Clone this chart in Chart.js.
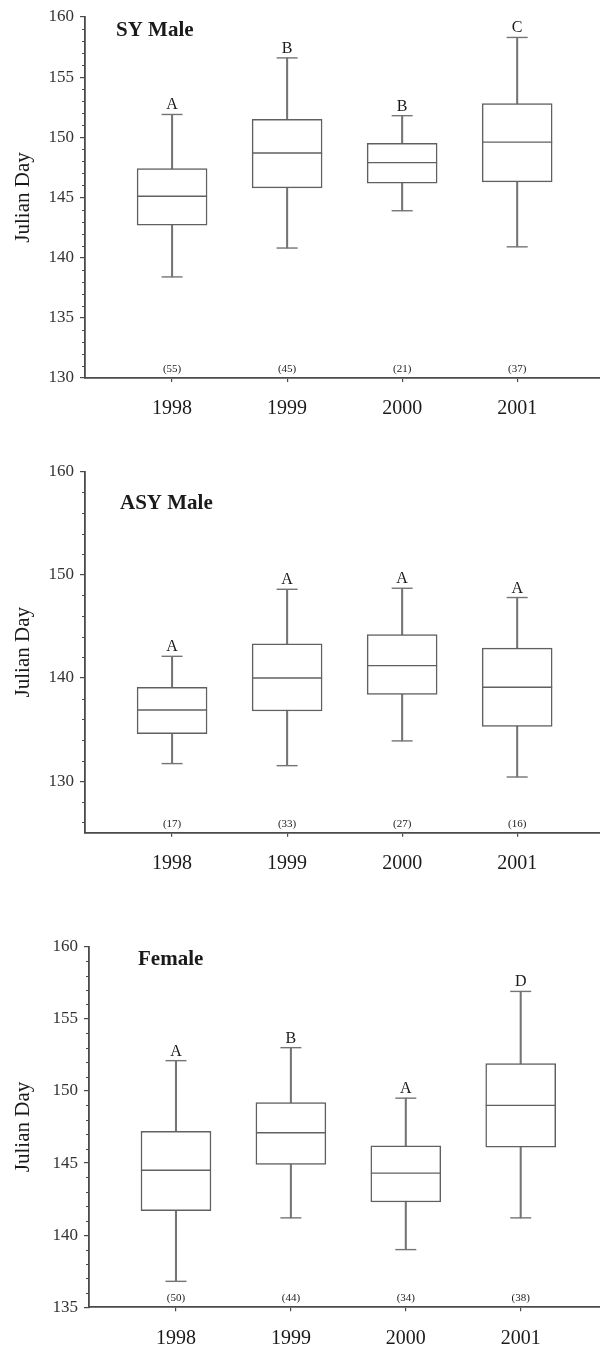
<!DOCTYPE html>
<html>
<head>
<meta charset="utf-8">
<script src="https://cdn.jsdelivr.net/npm/chart.js@4.4.0/dist/chart.umd.min.js"></script>
<style>
  body { margin: 0; background: #fff; }
  .panel { position: absolute; left: 0; width: 600px; }
</style>
</head>
<body>
<div class="panel" style="top:0;height:440px"><canvas id="syChart"></canvas></div>
<div class="panel" style="top:440px;height:440px"><canvas id="asyChart"></canvas></div>
<div class="panel" style="top:880px;height:467px"><canvas id="femaleChart"></canvas></div>
<script>
const years = [1998, 1999, 2000, 2001];

// SY Male
const syLow = [138.4, 140.8, 143.9, 140.9];
const syQ1 = [142.7, 145.8, 146.2, 146.3];
const syMedian = [145.1, 148.7, 147.9, 149.6];
const syQ3 = [147.4, 151.5, 149.5, 152.8];
const syHigh = [151.9, 156.6, 151.8, 158.3];
const syGroups = ["A", "B", "B", "C"];
const syCounts = [55, 45, 21, 37];
const syTicks = [130, 135, 140, 145, 150, 155, 160];

// ASY Male
const asyLow = [131.7, 131.5, 133.9, 130.4];
const asyQ1 = [134.6, 136.8, 138.4, 135.3];
const asyMedian = [136.9, 140.0, 141.2, 139.1];
const asyQ3 = [139.1, 143.3, 144.2, 142.9];
const asyHigh = [142.1, 148.6, 148.7, 147.8];
const asyGroups = ["A", "A", "A", "A"];
const asyCounts = [17, 33, 27, 16];
const asyTicks = [130, 140, 150, 160];

// Female
const femLow = [136.8, 141.2, 139.0, 141.2];
const femQ1 = [141.7, 144.9, 142.3, 146.1];
const femMedian = [144.5, 147.1, 144.3, 149.0];
const femQ3 = [147.2, 149.2, 146.2, 151.9];
const femHigh = [152.1, 153.0, 149.5, 156.9];
const femGroups = ["A", "B", "A", "D"];
const femCounts = [50, 44, 34, 38];
const femTicks = [135, 140, 145, 150, 155, 160];

const serif = '"Liberation Serif", "Times New Roman", serif';
const axisColor = "#4a4a4a";
const boxColor = "#606060";
const whiskerColor = "#747474";

function makePanel(id, d, layout) {
    const parts = {
        id: "boxParts",
        afterDatasetsDraw(chart) {
            const { ctx, chartArea, scales: { x, y } } = chart;
            const boxes = chart.getDatasetMeta(0).data;
            const hline = (x1, x2, yy) => {
                ctx.beginPath();
                ctx.moveTo(x1, yy);
                ctx.lineTo(x2, yy);
                ctx.stroke();
            };
            ctx.save();
            ctx.lineWidth = 1.4;
            years.forEach((yr, i) => {
                const cx = x.getPixelForValue(yr);
                const half = boxes[i].width / 2;
                ctx.strokeStyle = boxColor;
                hline(cx - half, cx + half, y.getPixelForValue(d.median[i]));
                ctx.strokeStyle = whiskerColor;
                hline(cx - 10.5, cx + 10.5, y.getPixelForValue(d.low[i]));
                hline(cx - 10.5, cx + 10.5, y.getPixelForValue(d.high[i]));
            });

            // minor ticks
            ctx.strokeStyle = axisColor;
            ctx.lineWidth = 1;
            const step = layout.minorStep;
            for (let v = Math.ceil(y.min / step) * step; v <= y.max; v += step) {
                if (d.ticks.includes(v)) continue;
                const py = Math.round(y.getPixelForValue(v)) + 0.5;
                hline(chartArea.left - 3, chartArea.left, py);
            }

            ctx.fillStyle = "#1a1a1a";
            ctx.textAlign = "center";
            ctx.textBaseline = "alphabetic";
            ctx.font = "16px " + serif;
            years.forEach((yr, i) => {
                ctx.fillText(d.groups[i], x.getPixelForValue(yr), y.getPixelForValue(d.high[i]) - 5);
            });
            ctx.font = "11px " + serif;
            ctx.textBaseline = "middle";
            years.forEach((yr, i) => {
                ctx.fillText("(" + d.counts[i] + ")", x.getPixelForValue(yr), chartArea.bottom - 9);
            });

            ctx.font = "bold 21px " + serif;
            ctx.textAlign = "left";
            ctx.fillText(d.title, chartArea.left + layout.titleDx, chartArea.top + layout.titleDy);
            ctx.restore();
        },
    };

    return new Chart(document.getElementById(id), {
        type: "bar",
        data: {
            datasets: [
                {
                    label: "box",
                    data: years.map((yr, i) => ({ x: yr, y: [d.q1[i], d.q3[i]] })),
                    backgroundColor: "#fff",
                    borderColor: boxColor,
                    borderWidth: 1.5,
                    borderSkipped: false,
                    barThickness: 70,
                    grouped: false,
                    order: 1,
                },
                {
                    label: "whisker",
                    data: years.map((yr, i) => ({ x: yr, y: [d.low[i], d.high[i]] })),
                    backgroundColor: whiskerColor,
                    borderWidth: 0,
                    barThickness: 1.4,
                    grouped: false,
                    order: 2,
                },
            ],
        },
        options: {
            responsive: true,
            maintainAspectRatio: false,
            animation: false,
            layout: { padding: { top: layout.top, left: 0, right: 0, bottom: 0 } },
            plugins: {
                legend: { display: false },
                tooltip: { enabled: false },
            },
            scales: {
                x: {
                    type: "linear",
                    min: 1997.243,
                    max: layout.xMax,
                    offset: false,
                    afterBuildTicks: (scale) => {
                        scale.ticks = years.map((v) => ({ value: v }));
                    },
                    afterFit: (scale) => {
                        scale.height = layout.xHeight;
                    },
                    ticks: {
                        callback: (value) => String(value),
                        font: { family: serif, size: 20 },
                        color: "#1a1a1a",
                        padding: 15,
                        maxRotation: 0,
                        autoSkip: false,
                    },
                    grid: { drawOnChartArea: false, offset: false, tickLength: 4, color: axisColor, lineWidth: 1.2 },
                    border: { color: axisColor, width: 1.8 },
                },
                y: {
                    min: layout.yMin,
                    max: 160,
                    afterBuildTicks: (scale) => {
                        scale.ticks = d.ticks.map((v) => ({ value: v }));
                    },
                    afterFit: (scale) => {
                        scale.width = layout.axisX;
                    },
                    ticks: {
                        font: { family: serif, size: 17 },
                        color: "#333",
                        padding: 6,
                    },
                    grid: { drawOnChartArea: false, tickLength: 5, color: axisColor, lineWidth: 1.2 },
                    border: { color: axisColor, width: 1.8 },
                    title: {
                        display: true,
                        text: "Julian Day",
                        font: { family: serif, size: 21 },
                        color: "#1a1a1a",
                        padding: { top: 11, bottom: 0 },
                    },
                },
            },
        },
        plugins: [parts],
    });
}

makePanel("syChart",
    { low: syLow, q1: syQ1, median: syMedian, q3: syQ3, high: syHigh, groups: syGroups, counts: syCounts, ticks: syTicks, title: "SY Male" },
    { top: 17, xHeight: 62, axisX: 85, yMin: 130, minorStep: 1, xMax: 2001.72, titleDx: 31, titleDy: 14 });

makePanel("asyChart",
    { low: asyLow, q1: asyQ1, median: asyMedian, q3: asyQ3, high: asyHigh, groups: asyGroups, counts: asyCounts, ticks: asyTicks, title: "ASY Male" },
    { top: 31.7, xHeight: 47.3, axisX: 85, yMin: 125, minorStep: 2, xMax: 2001.72, titleDx: 35, titleDy: 32 });

makePanel("femaleChart",
    { low: femLow, q1: femQ1, median: femMedian, q3: femQ3, high: femHigh, groups: femGroups, counts: femCounts, ticks: femTicks, title: "Female" },
    { top: 66.7, xHeight: 39.7, axisX: 89, yMin: 135, minorStep: 1, xMax: 2001.69, titleDx: 49, titleDy: 13 });
</script>
</body>
</html>
